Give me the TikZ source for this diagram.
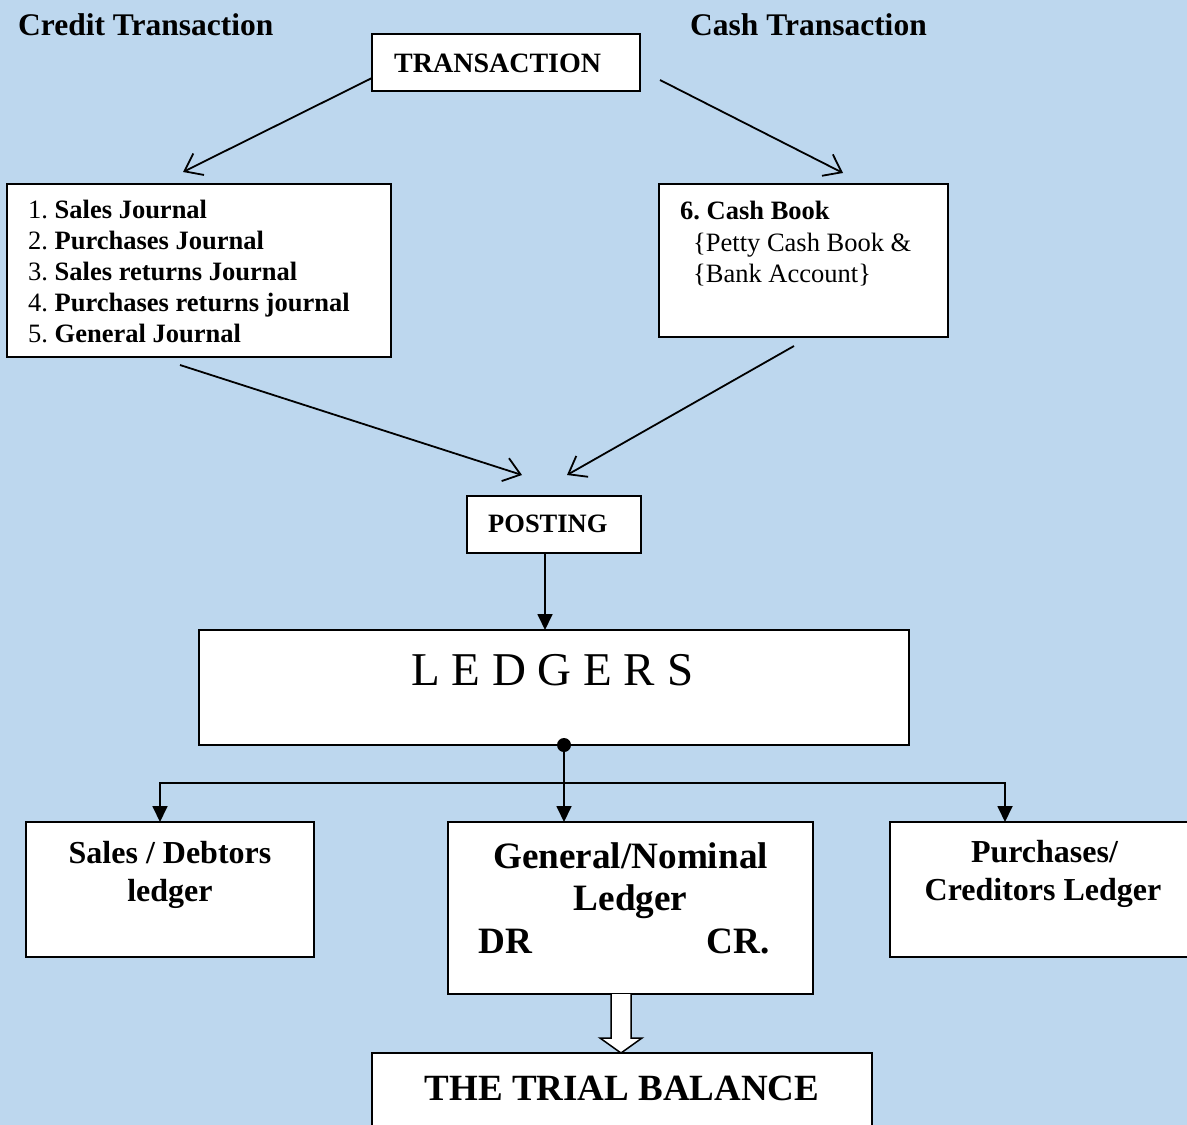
\documentclass[tikz,border=0pt]{standalone}
\usepackage{fontspec}
\setmainfont{Liberation Serif}
\usetikzlibrary{arrows.meta,calc}
\definecolor{bgblue}{RGB}{189,215,238}
\frenchspacing
\begin{document}
\begin{tikzpicture}[x=1pt,y=-1pt,
  box/.style={draw=black, line width=1.8pt, fill=white, inner sep=0pt, outer sep=0pt, anchor=north west},
  lbl/.style={inner sep=0pt, anchor=base west},
  clbl/.style={inner sep=0pt, anchor=base},
  openarr/.style={line width=1.8pt, -{Straight Barb[length=16pt,width=24pt]}},
  fillarr/.style={line width=1.8pt, -{Triangle[length=16pt,width=15pt]}},
  headfont/.style={font=\fontsize{31.5}{38}\selectfont\bfseries},
  listfont/.style={font=\fontsize{26.5}{31}\selectfont},
  ledfont/.style={font=\fontsize{32}{38}\selectfont\bfseries},
  genfont/.style={font=\fontsize{37.2}{42}\selectfont\bfseries},
]
\useasboundingbox (0,0) rectangle (1187,1125);
\clip (0,0) rectangle (1187,1125);
\fill[bgblue] (0,0) rectangle (1187,1125);

% boxes
\node[box, minimum width=268pt, minimum height=57pt] (trans) at (372,34) {};
\node[box, minimum width=384pt, minimum height=173pt] (journ) at (7,184) {};
\node[box, minimum width=289pt, minimum height=153pt] (cash) at (659,184) {};
\node[box, minimum width=174pt, minimum height=57pt] (post) at (467,496) {};
\node[box, minimum width=710pt, minimum height=115pt] (ledg) at (199,630) {};
\node[box, minimum width=288pt, minimum height=135pt] (sales) at (26,822) {};
\node[box, minimum width=365pt, minimum height=172pt] (gen) at (448,822) {};
\node[box, minimum width=320pt, minimum height=135pt] (purch) at (890,822) {};
\node[box, minimum width=500pt, minimum height=90pt] (trial) at (372,1053) {};

% headings
\node[lbl, headfont] (credit) at (18,35) {Credit Transaction};
\node[lbl, headfont] (cashT) at (690,35) {Cash Transaction};
\node[lbl, font=\fontsize{28}{33}\selectfont\bfseries] (transT) at (394,72) {TRANSACTION};

% journal list
\node[lbl, listfont] (j1) at (28,218) {1. \textbf{Sales Journal}};
\node[lbl, listfont] (j2) at (28,249) {2. \textbf{Purchases Journal}};
\node[lbl, listfont] (j3) at (28,280) {3. \textbf{Sales returns Journal}};
\node[lbl, listfont] (j4) at (28,311) {4. \textbf{Purchases returns journal}};
\node[lbl, listfont] (j5) at (28,342) {5. \textbf{General Journal}};

% cash book
\node[lbl, listfont] (c1) at (680,219) {\textbf{6. Cash Book}};
\node[lbl, listfont] (c2) at (693,251) {\{Petty Cash Book \&};
\node[lbl, listfont] (c3) at (693,282) {\{Bank Account\}};

% posting & ledgers
\node[lbl, font=\fontsize{26.5}{31}\selectfont\bfseries] (postT) at (488,532) {POSTING};
\node[lbl, font=\fontsize{47}{56}\selectfont] (ledgT) at (411,685) {L E D G E R S};

% ledger boxes
\node[clbl, ledfont] (s1) at (170,863) {Sales / Debtors};
\node[clbl, ledfont] (s2) at (170,901) {ledger};
\node[clbl, genfont] (g1) at (630.5,868) {General/Nominal};
\node[clbl, genfont] (g2) at (630.5,910) {Ledger};
\node[lbl, genfont] (g3) at (478,953) {DR};
\node[inner sep=0pt, anchor=base east, genfont] (g4) at (770,953) {CR.};
\node[clbl, ledfont] (p1) at (1044.5,862) {Purchases/};
\node[clbl, ledfont] (p2) at (1043,900) {Creditors Ledger};
\node[clbl, font=\fontsize{37}{44}\selectfont\bfseries] (trialT) at (622,1100) {THE TRIAL BALANCE};

% connectors
\draw[openarr] ([yshift=-15.5pt]trans.west) -- ([xshift=-16pt,yshift=12pt]journ.north);
\draw[openarr] ([xshift=20pt,yshift=-17.5pt]trans.east) -- ([xshift=39.5pt,yshift=11pt]cash.north);
\draw[openarr] ([xshift=-19pt,yshift=-8pt]journ.south) -- ([xshift=-32pt,yshift=21pt]post.north);
\draw[openarr] ([xshift=-9.5pt,yshift=-9pt]cash.south) -- ([xshift=13pt,yshift=21pt]post.north);
\draw[fillarr] ([xshift=-9pt]post.south) -- ([xshift=-9pt]post.south |- ledg.north);

\coordinate (dotc) at ([xshift=10pt]ledg.south);
\coordinate (junc) at ($(dotc)+(0,38)$);
\draw[fillarr] (dotc) -- (dotc |- gen.north);
\draw[fillarr] (junc) -| ([xshift=-10pt]sales.north);
\draw[fillarr] (junc) -| ([xshift=-45pt]purch.north);
\fill (dotc) circle (7pt);

% hollow arrow to trial balance
\coordinate (ha) at ([xshift=-9.5pt]gen.south);
\draw[line width=1.5pt, fill=white] ($(ha)+(-10,0)$) -- ++(0,44) -- ++(-11,0) -- ($(ha)+(0,59)$) -- ($(ha)+(21,44)$) -- ++(-11,0) -- ($(ha)+(10,0)$);
\end{tikzpicture}
\end{document}
